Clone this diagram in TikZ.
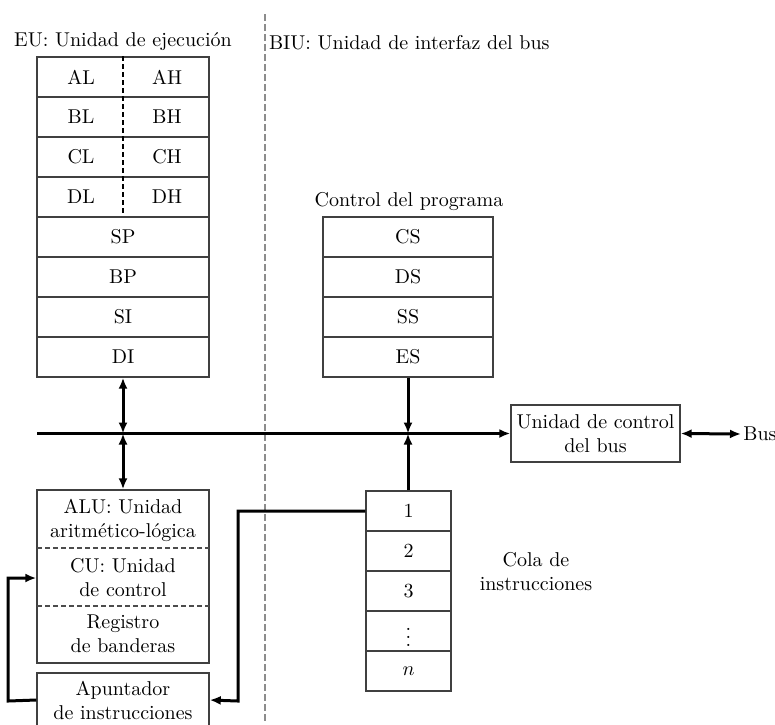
\documentclass[tikz,border=0pt]{standalone}
\usepackage{fontspec}
\usepackage{tikz}
\usetikzlibrary{positioning,arrows.meta}

\begin{document}
\begin{tikzpicture}[x=0.5pt, y=-0.5pt,
  reg/.style={draw=black!75, line width=0.7pt, minimum width=86pt,
    minimum height=20pt, inner sep=0pt, align=center},
  seg/.style={reg, minimum width=85pt},
  cell/.style={reg, minimum width=42.5pt},
  split/.style={draw=black!70, line width=0.6pt, dash pattern=on 2.5pt off 1.5pt},
  divider/.style={draw=black!45, line width=0.8pt, dash pattern=on 3.5pt off 1.5pt},
  arr/.style={-{Latex[length=5.5pt,width=4.5pt]}, line width=1.5pt},
  dbl/.style={{Latex[length=5.5pt,width=4.5pt]}-{Latex[length=5.5pt,width=4.5pt]}, line width=1.5pt}
]
  \useasboundingbox (0,0) rectangle (775,724);
  \draw[divider] (265,14) -- (265,724);

  % EU registers
  \node (eulabel) at (123,42) {EU: Unidad de ejecución};
  \node[reg] (rowa) at (123,77) {};
  \node (al) at (81,77) {AL};
  \node (ah) at (167,77) {AH};
  \node[reg] (rowb) at (123,117) {};
  \node (bl) at (81,117) {BL};
  \node (bh) at (167,117) {BH};
  \node[reg] (rowc) at (123,157) {};
  \node (cl) at (81,157) {CL};
  \node (ch) at (167,157) {CH};
  \node[reg] (rowd) at (123,197) {};
  \node (dl) at (81,197) {DL};
  \node (dh) at (167,197) {DH};
  \draw[split, draw=black] (rowa.north) -- (rowd.south);
  \node[reg] (sp) at (123,237) {SP};
  \node[reg] (bp) at (123,277) {BP};
  \node[reg] (si) at (123,317) {SI};
  \node[reg] (di) at (123,357) {DI};

  % BIU labels and segment registers
  \node[anchor=west] (biulabel) at (262,43) {BIU: Unidad de interfaz del bus};
  \node (seglabel) at (409,202) {Control del programa};
  \node[seg] (cs) at (408,237) {CS};
  \node[seg] (ds) at (408,277) {DS};
  \node[seg] (ss) at (408,317) {SS};
  \node[seg] (es) at (408,357) {ES};

  % ALU, control unit and flags
  \node[reg, minimum height=86.5pt] (alu) at (123,576.5) {};
  \node[align=center] (alutext) at (123,520) {ALU: Unidad\\aritmético-lógica};
  \node[align=center] (cu) at (123,578) {CU: Unidad\\de control};
  \node[align=center] (flags) at (123,634) {Registro\\de banderas};
  \draw[split] (37,548) -- (209,548);
  \draw[split] (37,606) -- (209,606);
  \node[reg, minimum height=27pt] (ptr) at (123,700) {Apuntador\\de instrucciones};

  % instruction queue
  \node[cell] (q1) at (408.5,511) {1};
  \node[cell] (q2) at (408.5,551) {2};
  \node[cell] (q3) at (408.5,591) {3};
  \node[cell] (qdots) at (408.5,631) {$\vdots$};
  \node[cell] (qn) at (408.5,671) {$n$};
  \node[align=center] (qlabel) at (536,572) {Cola de\\instrucciones};

  % bus
  \node[reg, minimum width=84.5pt, minimum height=28.5pt] (buc) at (595.5,433.5) {Unidad de control\\del bus};
  \node[anchor=west, inner sep=1pt] (bus) at (741,434) {Bus};
  \coordinate (busstart) at (37,433.5);
  \coordinate (jeu) at (123,433.5);
  \coordinate (jbiu) at (408,433.5);
  \draw[arr] (busstart) -- (buc.west);
  \draw[dbl] (buc.east) -- (bus.west);
  \draw[dbl] (di.south) -- (jeu);
  \draw[dbl] (jeu) -- (alu.north);
  \draw[arr] (es.south) -- (jbiu);
  \draw[arr] (q1.north -| jbiu) -- (jbiu);

  % queue to instruction pointer, pointer back to control unit
  \coordinate (qbend) at (238,701);
  \coordinate (loopl) at (8,701);
  \draw[arr] (q1.west) -| (qbend) -- (ptr.east);
  \draw[arr] (ptr.west) -- (loopl) |- (cu.west -| alu.west);
\end{tikzpicture}
\end{document}
